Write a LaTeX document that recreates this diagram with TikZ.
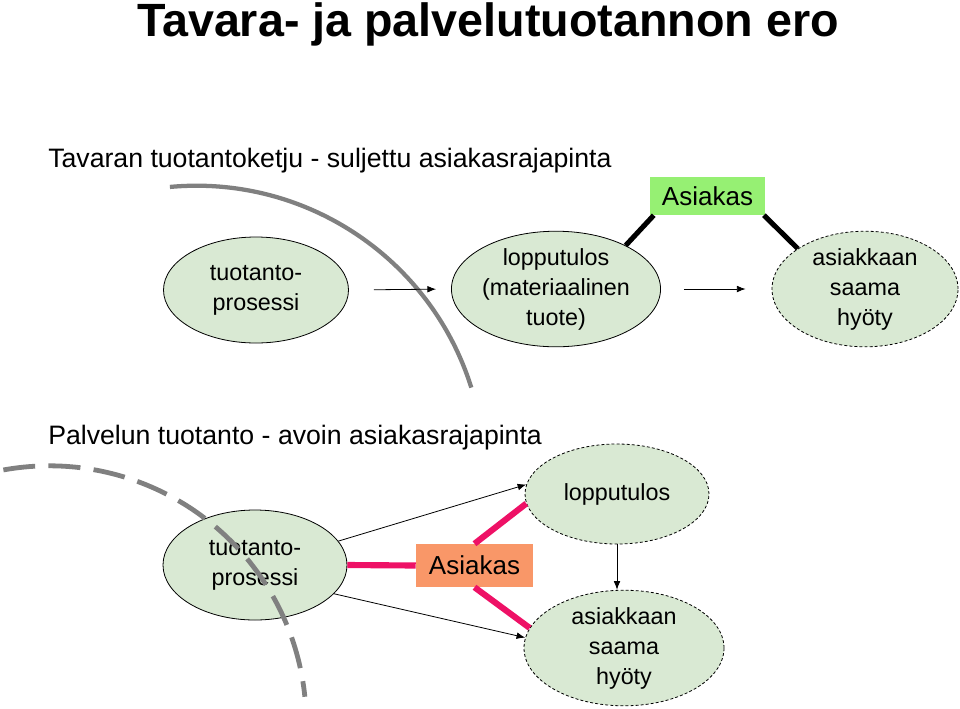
\documentclass[tikz,border=0pt]{standalone}
\usepackage{fontspec}
\setmainfont{Liberation Sans}
\usetikzlibrary{shapes.geometric,arrows.meta}
\definecolor{ellfill}{RGB}{217,233,211}
\definecolor{boxgreen}{RGB}{150,240,115}
\definecolor{boxorange}{RGB}{249,151,104}
\definecolor{pinkline}{RGB}{238,17,102}
\definecolor{arcgray}{RGB}{128,128,128}
\begin{document}
\begin{tikzpicture}[x=0.75pt,y=-0.75pt,
  ell/.style={ellipse,draw=black,line width=0.6pt,fill=ellfill,inner sep=0pt,align=center,
    font=\fontsize{17.5pt}{22.5pt}\selectfont},
  ellsolid/.style={ell},
  elldash/.style={ell,dash pattern=on 2.2pt off 1.6pt},
  custbox/.style={rectangle,inner sep=0pt,font=\fontsize{19.5pt}{23pt}\selectfont},
  thinarrow/.style={line width=0.6pt,-{Latex[length=6.5pt,width=5pt]}},
  blackbar/.style={line width=3.8pt,black},
  pinkbar/.style={line width=4.6pt,pinkline},
  heading/.style={anchor=base west,inner sep=0pt,font=\fontsize{20pt}{24pt}\selectfont}]
\useasboundingbox (0,0) rectangle (960,708);

% title and headings
\node[anchor=base,inner sep=0pt,font=\fontsize{35pt}{40pt}\selectfont\bfseries] (title) at (488,36) {Tavara- ja palvelutuotannon ero};
\node[heading] (h1) at (48,167) {Tavaran tuotantoketju - suljettu asiakasrajapinta};
\node[heading] (h2) at (48,444) {Palvelun tuotanto - avoin asiakasrajapinta};

% top gray arc
\draw[arcgray,line width=3.2pt] (196.5,473.7) ++(95.3:288*0.75pt) arc[start angle=95.3,end angle=17.4,radius=288*0.75pt];

% top row
\node[ellsolid,minimum width=138.75pt,minimum height=79.5pt] (E1) at (256,290) {tuotanto-\\prosessi};
\node[ellsolid,minimum width=139.5pt,minimum height=81pt] (E2) at (556,289) {lopputulos\\(materiaalinen\\tuote)};
\node[elldash,minimum width=139.5pt,minimum height=81pt] (E3) at (865,289) {asiakkaan\\saama\\hyöty};
\node[custbox,fill=boxgreen,minimum width=86.25pt,minimum height=28.5pt] (G) at (707.5,196) {Asiakas};

\draw[thinarrow,shorten <=18.75pt,shorten >=11.25pt] (E1.east) -- (E2.west);
\draw[thinarrow,shorten <=17.25pt,shorten >=19.5pt] (E2.east) -- (E3.west);
\draw[blackbar] ([xshift=3pt]G.south west) -- (E2.32);
\draw[blackbar] ([xshift=-1pt]G.south east) -- (E3.149);

% bottom row
\node[ellsolid,minimum width=138pt,minimum height=82.5pt] (E4) at (255,565) {tuotanto-\\prosessi};
\node[elldash,minimum width=138pt,minimum height=75pt] (E5) at (617,494) {lopputulos};
\node[elldash,minimum width=150pt,minimum height=81pt] (E6) at (624,648) {asiakkaan\\saama\\hyöty};
\node[custbox,fill=boxorange,minimum width=87.75pt,minimum height=32.25pt] (O) at (474.5,565.5) {Asiakas};

% bottom dashed arc, drawn over the ellipse
\draw[arcgray,line width=3.6pt,dash pattern=on 24pt off 10pt] (49.3,722.7) ++(100.3:256.9*0.75pt) arc[start angle=100.3,end angle=5.8,radius=256.9*0.75pt];

\draw[thinarrow] (E4.16) -- (E5.174);
\draw[thinarrow] (E4.-20) -- (E6.174);
\draw[thinarrow] (E5.south) -- (E5.south |- E6.north);
\draw[pinkbar] (E4.east) -- (O.west);
\draw[pinkbar] (O.north) -- (E5.186);
\draw[pinkbar] (O.south) -- (E6.168);
\end{tikzpicture}
\end{document}
